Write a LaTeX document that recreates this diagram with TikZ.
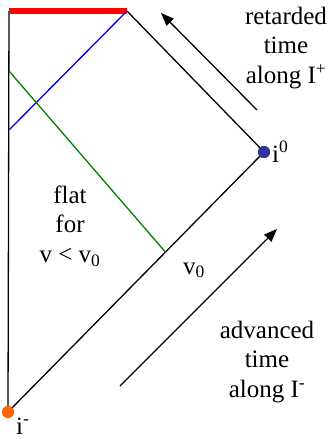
\documentclass[tikz,border=0pt]{standalone}
\usepackage{fontspec}
\setmainfont{Liberation Serif}
\usetikzlibrary{arrows.meta,calc}
\definecolor{dotblue}{HTML}{333399}
\definecolor{dotorange}{HTML}{FF6600}
\definecolor{darkgreen}{HTML}{008000}
\begin{document}
\begin{tikzpicture}[x=1pt,y=-1pt,
  edge/.style={draw=black,line width=1.3pt},
  timearrow/.style={draw=black,line width=1.3pt,-{Triangle[length=13pt,width=10pt]}},
  lbl/.style={font=\fontsize{25}{29.5}\selectfont,align=center,inner sep=0pt},
  dotnode/.style={circle,inner sep=0pt,minimum size=12pt}]
\useasboundingbox (0,0) rectangle (330,439);
\coordinate (TL) at (9,11);
\coordinate (TR) at (127,11);
\coordinate (blueL) at (9,130);
\coordinate (greenL) at (9,71);
\node[dotnode,fill=dotblue] (i0) at (264,152) {};
\node[dotnode,fill=dotorange] (im) at (8,412) {};
\coordinate (greenR) at ($(i0.center)!0.385!(im.center)$);
% boundary
\draw[edge] (TL) -- (im.center);
\draw[edge] (TR) -- (i0.center);
\draw[edge] (i0.center) -- (im.center);
\draw[draw=red,line width=6pt] (TL) -- (TR);
\draw[draw=blue,line width=1.3pt] (TR) -- (blueL);
\draw[draw=darkgreen,line width=1.3pt] (greenL) -- (greenR);
\node[dotnode,fill=dotblue] at (i0) {};
\node[dotnode,fill=dotorange] at (im) {};
% arrows
\coordinate (ua) at (257,110);
\coordinate (ub) at (161,13);
\coordinate (la) at (120,386);
\coordinate (lb) at (277,229);
\draw[timearrow] (ua) -- (ub);
\draw[timearrow] (la) -- (lb);
% labels
\node[lbl,anchor=center] (ret) at (286,48) {retarded\\time\\along I\textsuperscript{+}};
\node[lbl,anchor=center] (adv) at (267,362) {advanced\\time\\along I\textsuperscript{-}};
\node[lbl,anchor=center] (flat) at (70,226) {flat\\for\\v < v\textsubscript{0}};
\node[lbl,anchor=base] (v0) at (194,274) {v\textsubscript{0}};
\node[lbl,anchor=base west] (i0lbl) at (272,162) {i\textsuperscript{0}};
\node[lbl,anchor=base west] (imlbl) at (16,434) {i\textsuperscript{-}};
\end{tikzpicture}
\end{document}
